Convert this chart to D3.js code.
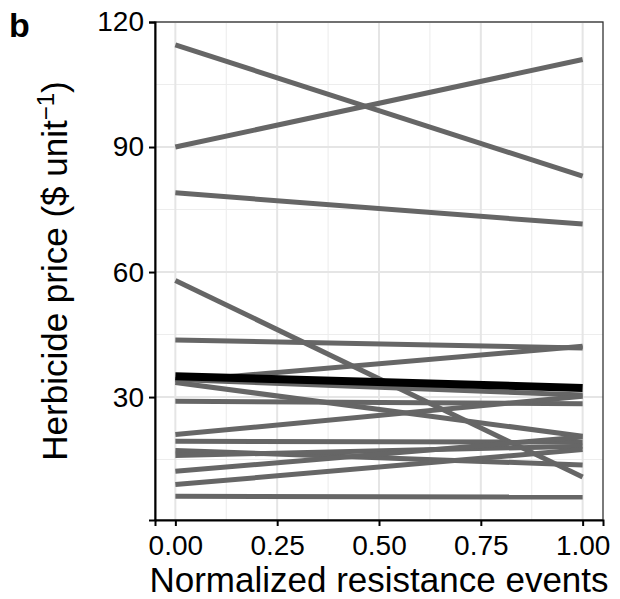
<!DOCTYPE html>
<html>
<head>
<meta charset="utf-8">
<script src="https://cdn.jsdelivr.net/npm/d3@7"></script>
<style>
  html, body { margin: 0; padding: 0; background: #fff; }
  svg { display: block; font-family: "Liberation Sans", Arial, sans-serif; }
</style>
</head>
<body>
<svg id="chart" width="620" height="599"></svg>
<script>
// Herbicide price at the two ends of the normalized resistance-event range
const xEnds = [0, 1];
const priceAtZero = [114.5, 90, 79, 58, 43.7, 33.8, 34.2, 33.5, 29.0, 21.0, 19.4, 17.2, 16.0, 12.2, 9.0, 6.2];
const priceAtOne  = [83, 111, 71.5, 10.8, 41.8, 42.2, 30.5, 20.6, 28.4, 30.2, 19.2, 13.7, 18.2, 20.4, 17.4, 6.0];
// highlighted (mean) herbicide
const highlightAtZero = 35.0;
const highlightAtOne = 32.2;

const xTicks = [0, 0.25, 0.5, 0.75, 1];
const xMinor = [0.125, 0.375, 0.625, 0.875];
const yTicks = [30, 60, 90, 120];
const yMinor = [15, 45, 75, 105];

const svg = d3.select("#chart");
const panel = { left: 155, right: 603, top: 22, bottom: 520 };

const x = d3.scaleLinear().domain([-0.05, 1.05]).range([panel.left, panel.right]);
const y = d3.scaleLinear().domain([0.5, 120]).range([panel.bottom, panel.top]);

// grid
const grid = svg.append("g");
grid.selectAll("line.ymin").data(yMinor).join("line")
  .attr("x1", panel.left).attr("x2", panel.right)
  .attr("y1", d => y(d)).attr("y2", d => y(d))
  .attr("stroke", "#ededed").attr("stroke-width", 1.1);
grid.selectAll("line.xmin").data(xMinor).join("line")
  .attr("y1", panel.top).attr("y2", panel.bottom)
  .attr("x1", d => x(d)).attr("x2", d => x(d))
  .attr("stroke", "#ededed").attr("stroke-width", 1.1);
grid.selectAll("line.ymaj").data(yTicks).join("line")
  .attr("x1", panel.left).attr("x2", panel.right)
  .attr("y1", d => y(d)).attr("y2", d => y(d))
  .attr("stroke", "#e5e5e5").attr("stroke-width", 2);
grid.selectAll("line.xmaj").data(xTicks).join("line")
  .attr("y1", panel.top).attr("y2", panel.bottom)
  .attr("x1", d => x(d)).attr("x2", d => x(d))
  .attr("stroke", "#e5e5e5").attr("stroke-width", 2);

// herbicide lines
const segs = priceAtZero.map((v, i) => [[xEnds[0], v], [xEnds[1], priceAtOne[i]]]);
const line = d3.line().x(d => x(d[0])).y(d => y(d[1]));
svg.append("g").selectAll("path").data(segs).join("path")
  .attr("d", line)
  .attr("fill", "none").attr("stroke", "#666666").attr("stroke-width", 5);

svg.append("path")
  .attr("d", line([[xEnds[0], highlightAtZero], [xEnds[1], highlightAtOne]]))
  .attr("fill", "none").attr("stroke", "#000").attr("stroke-width", 8);

// panel border
svg.append("rect")
  .attr("x", panel.left).attr("y", panel.top)
  .attr("width", panel.right - panel.left).attr("height", panel.bottom - panel.top)
  .attr("fill", "none").attr("stroke", "#333").attr("stroke-width", 1.3);

// axes
const xAxis = svg.append("g")
  .attr("transform", `translate(0,${panel.bottom})`)
  .call(d3.axisBottom(x).tickValues(xTicks).tickFormat(d3.format(".2f")).tickSize(6).tickPadding(4));
const yAxis = svg.append("g")
  .attr("transform", `translate(${panel.left},0)`)
  .call(d3.axisLeft(y).tickValues(yTicks).tickSize(6).tickPadding(5));

[xAxis, yAxis].forEach(a => {
  a.select(".domain").attr("stroke", "#000").attr("stroke-width", 2);
  a.selectAll(".tick line").attr("stroke", "#000").attr("stroke-width", 2);
  a.selectAll(".tick text")
    .attr("fill", "#000").attr("font-size", 28)
    .attr("font-family", "'Liberation Sans', Arial, sans-serif");
});
xAxis.selectAll(".tick text").attr("dy", "0.9em");

// axis titles
svg.append("text")
  .attr("x", 379).attr("y", 592)
  .attr("text-anchor", "middle").attr("font-size", 35).attr("fill", "#000")
  .text("Normalized resistance events");

const yt = svg.append("text")
  .attr("transform", `translate(67,${(panel.top + panel.bottom) / 2}) rotate(-90)`)
  .attr("text-anchor", "middle").attr("font-size", 35).attr("fill", "#000");
yt.append("tspan").text("Herbicide price ($ unit");
yt.append("tspan").attr("font-size", 24).attr("dy", -13).text("\u22121");
yt.append("tspan").attr("dy", 13).text(")");

// panel tag
svg.append("text")
  .attr("x", 9).attr("y", 37)
  .attr("font-size", 34).attr("font-weight", "bold").attr("fill", "#000")
  .text("b");
</script>
</body>
</html>
